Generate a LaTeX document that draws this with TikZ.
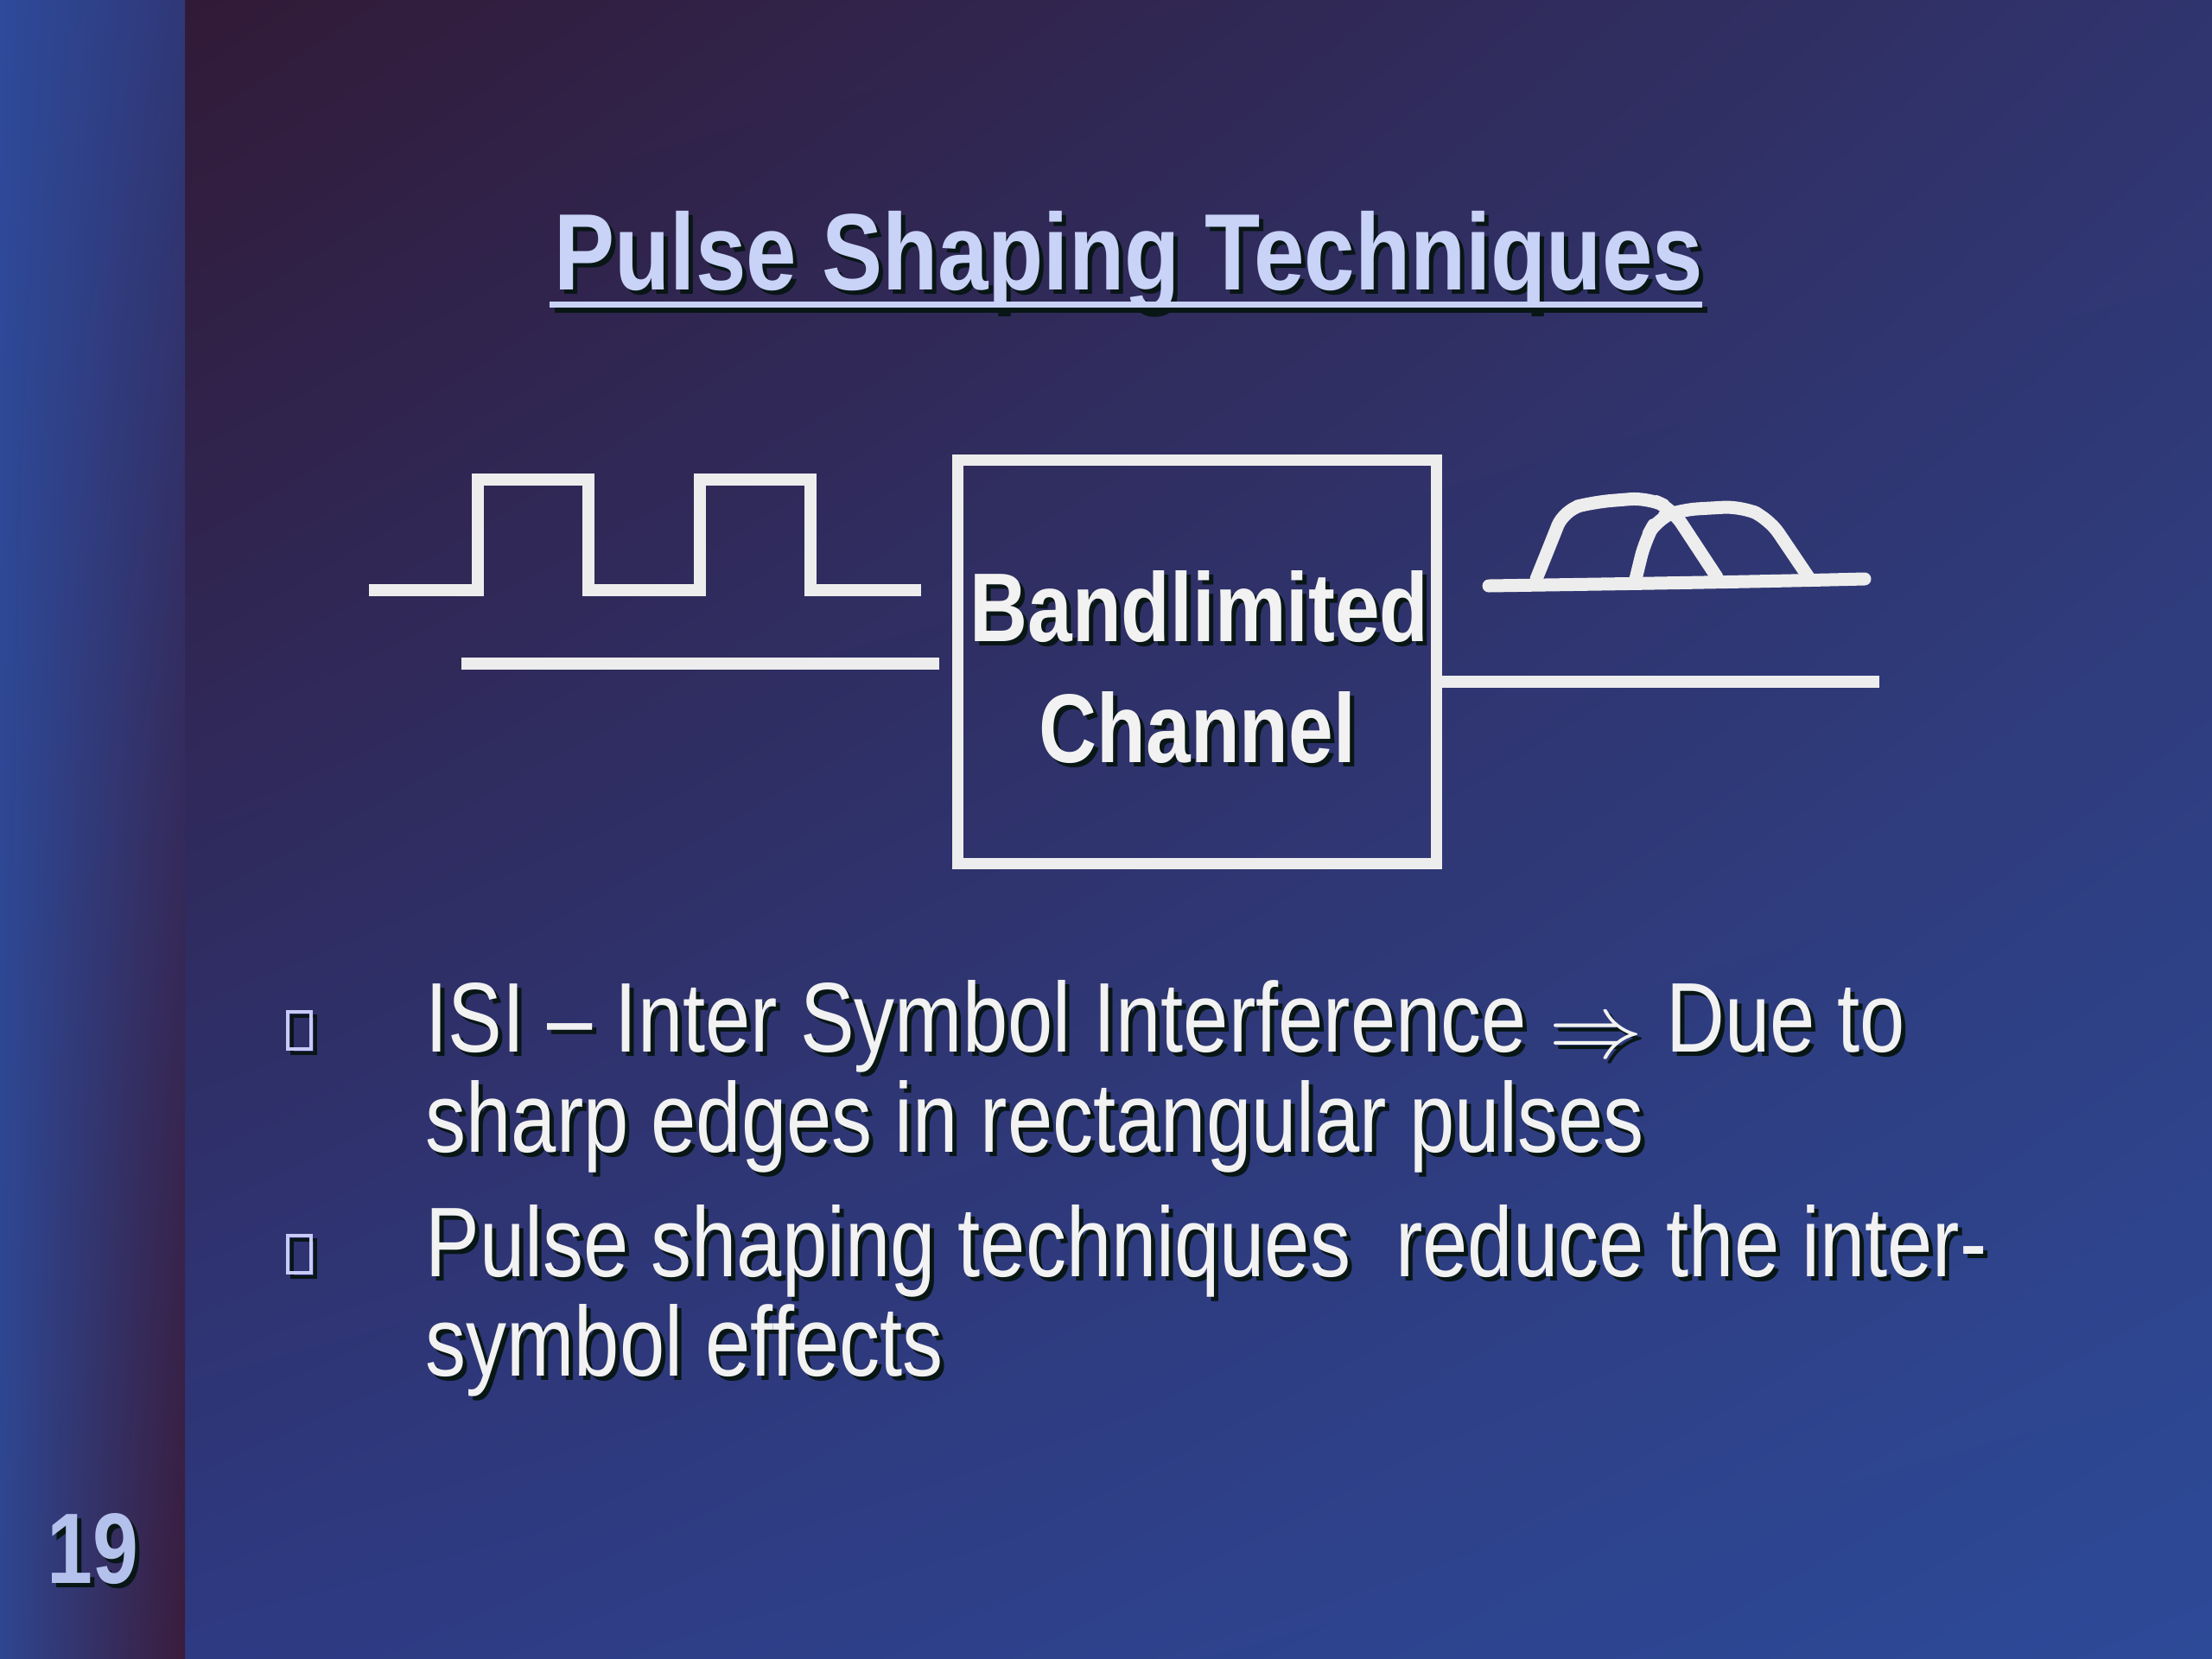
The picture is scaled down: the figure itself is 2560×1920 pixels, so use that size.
\documentclass[tikz,border=0pt]{standalone}
\usepackage{fontspec}
\usetikzlibrary{shadings}
\setmainfont{Liberation Sans}
\newfontfamily\slfont[FakeStretch=0.82]{Liberation Sans}
\newfontfamily\tlfont[FakeStretch=0.835]{Liberation Sans}
\definecolor{bgUL}{HTML}{311A37}
\definecolor{bgUR}{HTML}{30346E}
\definecolor{bgLL}{HTML}{2E3A82}
\definecolor{bgLR}{HTML}{2D4A98}
\definecolor{barUL}{HTML}{2E4A9A}
\definecolor{barUR}{HTML}{2F3878}
\definecolor{barLL}{HTML}{2E4690}
\definecolor{barLR}{HTML}{3A1C3C}
\definecolor{titlec}{HTML}{C9D2F7}
\definecolor{textc}{HTML}{F2F2F2}
\definecolor{numc}{HTML}{B3C1EC}
\definecolor{bulc}{HTML}{C8CAF8}
\definecolor{shadowc}{HTML}{081616}
\definecolor{linec}{HTML}{EDEDED}
\newcommand{\shnode}[4]{%
  \node[#2, text=shadowc, xshift=0.5mm, yshift=-0.5mm] (#1-sh) at #3 {#4};
  \node[#2] (#1) at #3 {#4};}
\newcommand{\bigimp}{\raisebox{-0.06em}{\scalebox{1.25}[1.2]{$\Rightarrow$}}}
\begin{document}
\begin{tikzpicture}[x=0.1mm, y=-0.1mm,
  ttl/.style={anchor=base west, inner sep=0pt, text=titlec,
    font=\tlfont\bfseries\fontsize{35.8pt}{40pt}\selectfont},
  boxt/.style={anchor=base, inner sep=0pt, text=textc,
    font=\slfont\bfseries\fontsize{32.2pt}{36pt}\selectfont},
  bul/.style={anchor=base west, inner sep=0pt, text=textc,
    font=\slfont\fontsize{32.6pt}{36pt}\selectfont},
  pnum/.style={anchor=base west, inner sep=0pt, text=numc,
    font=\slfont\bfseries\fontsize{33pt}{36pt}\selectfont},
  wire/.style={draw=linec, line width=1.35mm},
  hump/.style={draw=linec, line width=1.5mm, line cap=round, line join=round, rounded corners=2mm},
  sq/.style={draw=bulc, line width=0.4mm, minimum width=2.7mm, minimum height=4.3mm, inner sep=0pt},
  sqsh/.style={draw=shadowc, line width=0.4mm, minimum width=2.7mm, minimum height=4.3mm, inner sep=0pt},
  chanbox/.style={draw=linec, line width=1.3mm, minimum width=55.4mm, minimum height=46.7mm, inner sep=0pt}
]
\useasboundingbox (0,0) rectangle (2560,1920);
% backgrounds
\shade[upper left=bgUL, upper right=bgUR, lower left=bgLL, lower right=bgLR] (214,0) rectangle (2560,1920);
\shade[upper left=barUL, upper right=barUR, lower left=barLL, lower right=barLR] (0,0) rectangle (214,1920);

% title
\shnode{title}{ttl}{(641,335)}{Pulse Shaping Techniques}
\coordinate (ul1) at (636,352);
\coordinate (ul2) at (1970,352);
\draw[shadowc, line width=0.7mm] ([xshift=0.6mm,yshift=-0.6mm]ul1) -- ([xshift=0.6mm,yshift=-0.6mm]ul2);
\draw[titlec, line width=0.7mm] (ul1) -- (ul2);

% input square wave
\coordinate (sw0) at (427,683);
\coordinate (sw9) at (1066,683);
\draw[wire, line join=miter] (sw0) -- (553,683) -- (553,555) -- (681,555) -- (681,683)
  -- (810,683) -- (810,555) -- (938,555) -- (938,683) -- (sw9);
\coordinate (inA) at (534,768);
\coordinate (inB) at (1087,768);
\draw[wire] (inA) -- (inB);

% channel box
\node[chanbox] (chan) at (1385,765.5) {};
\shnode{band}{boxt}{(1388,742)}{Bandlimited}
\shnode{chn}{boxt}{(1386,882)}{Channel}
\coordinate (outB) at (2175,789);
\draw[wire] (chan.east |- outB) -- (outB);

% output distorted pulses
\coordinate (oa) at (1723,678);
\coordinate (ob) at (2158,670);
\draw[hump] (oa) .. controls (1850,676) and (2000,674) .. (ob);
\draw[hump]
  (1778,670) -- (1795,628) -- (1810,590) -- (1845,581) -- (1907,576) -- (1935,589) -- (1987,668);
\draw[hump]
  (1893,670) -- (1904,625) -- (1918,600) -- (1945,590) -- (2015,586) -- (2047,600) -- (2093,668);

% bullets
\node[sqsh] (b1sh) at (351,1197) {};
\node[sq] (b1) at (346.5,1192.5) {};
\shnode{l1}{bul}{(492,1217)}{ISI – Inter Symbol Interference \bigimp\ Due to}
\shnode{l2}{bul}{(492,1333)}{sharp edges in rectangular pulses}
\node[sqsh] (b2sh) at (351,1456) {};
\node[sq] (b2) at (346.5,1451.5) {};
\shnode{l3}{bul}{(492,1477)}{Pulse shaping techniques\ \ reduce the inter-}
\shnode{l4}{bul}{(492,1592)}{symbol effects}

% page number
\shnode{pg}{pnum}{(54,1832)}{19}
\end{tikzpicture}
\end{document}
